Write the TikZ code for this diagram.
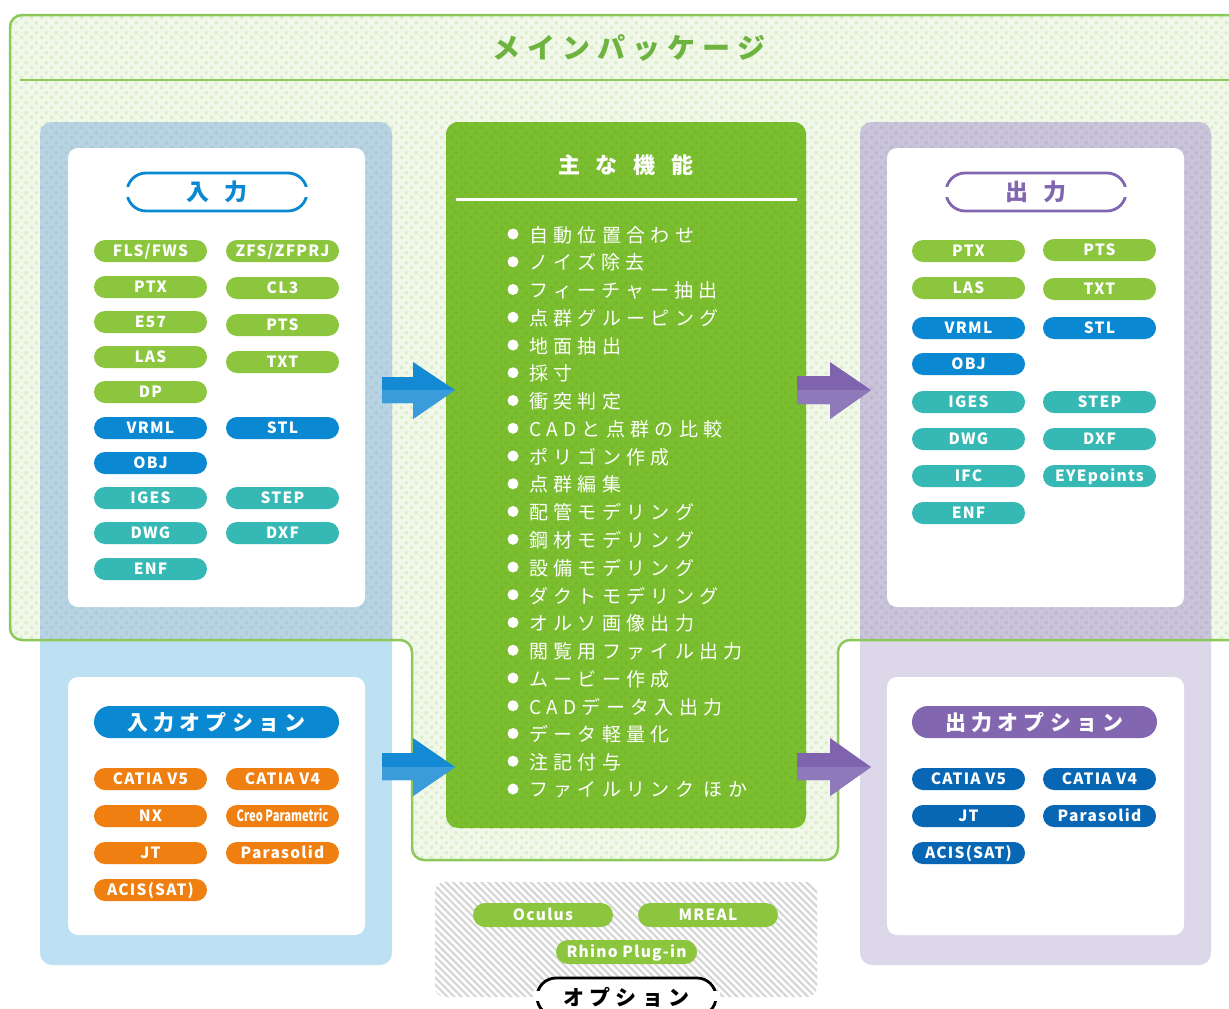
\documentclass[tikz,border=0pt]{standalone}
\usepackage{fontspec}
\usepackage{graphicx}
\setmainfont{Noto Sans CJK JP}
\usetikzlibrary{patterns,patterns.meta}
\definecolor{pgreen}{HTML}{8CC63F}
\definecolor{pblue}{HTML}{0A88D2}
\definecolor{pteal}{HTML}{36B9B5}
\definecolor{porange}{HTML}{EE7F10}
\definecolor{pdblue}{HTML}{0767B4}
\definecolor{ppurple}{HTML}{8267B0}
\definecolor{mainbg}{HTML}{F1F8EA}
\definecolor{maindot}{HTML}{DCEDCC}
\definecolor{mainline}{HTML}{8DC85A}
\definecolor{titlegreen}{HTML}{6DB33F}
\definecolor{cgreen}{HTML}{7BBE30}
\definecolor{cgreendot}{HTML}{74B72A}
\definecolor{inblueA}{HTML}{B8D4E2}
\definecolor{inblueAdot}{HTML}{ACCADB}
\definecolor{inblueB}{HTML}{BDE0F2}
\definecolor{outpurA}{HTML}{C9C4D9}
\definecolor{outpurAdot}{HTML}{BEB8CF}
\definecolor{outpurB}{HTML}{DCD8EA}
\definecolor{hatchline}{HTML}{D6D6D6}
\definecolor{arrbA}{HTML}{138AD3}
\definecolor{arrbB}{HTML}{3A9CDA}
\definecolor{arrpA}{HTML}{7F63AE}
\definecolor{arrpB}{HTML}{9079BA}
\newcommand\pillfont{\fontsize{15.5}{15.5}\selectfont\bfseries\addfontfeature{LetterSpace=8}}
\newcommand\itemfont{\fontsize{19}{19}\selectfont\addfontfeature{LetterSpace=28}}
\newcommand\optfont{\fontsize{21}{21}\selectfont\bfseries\addfontfeature{LetterSpace=24}}
\tikzdeclarepattern{
  name=chk,
  type=uncolored,
  bottom left={(0pt,0pt)},
  top right={(10pt,10pt)},
  tile size={(10pt,10pt)},
  code={
    \fill (0pt,0pt) rectangle (3.5pt,3.5pt);
    \fill (5pt,5pt) rectangle (8.5pt,8.5pt);
  }
}
\begin{document}
\begin{tikzpicture}[x=1pt,y=-1pt,
  pill/.style={rectangle, rounded corners=11pt, minimum width=113pt, minimum height=22pt, inner sep=0pt, text height=11.3pt, text depth=0pt, text=white, font=\pillfont},
  pillG/.style={pill, fill=pgreen},
  pillB/.style={pill, fill=pblue},
  pillT/.style={pill, fill=pteal},
  pillO/.style={pill, fill=porange},
  pillD/.style={pill, fill=pdblue},
  item/.style={anchor=west, inner sep=0pt, text=white, font=\itemfont},
  headpill/.style={rectangle, rounded corners=19pt, minimum width=180pt, minimum height=38pt, inner sep=0pt, fill=white, line width=2.8pt, font=\fontsize{23}{23}\selectfont\bfseries},
  optpill/.style={rectangle, rounded corners=16pt, minimum width=245pt, minimum height=32pt, inner sep=0pt, text=white, font=\optfont},
  panel/.style={fill=white, rounded corners=10pt},
  ]
\useasboundingbox (0,0) rectangle (1229,1009);
\clip (0,0) rectangle (1229,1009);
\fill[white] (0,0) rectangle (1229,1009);

% main package background
\path[fill=mainbg, rounded corners=12pt] (1260,15) -- (10,15) -- (10,640) -- (412,640) -- (412,860) -- (838,860) -- (838,640) -- (1260,640) -- cycle;
\path[pattern=chk, pattern color=maindot, rounded corners=12pt] (1260,15) -- (10,15) -- (10,640) -- (412,640) -- (412,860) -- (838,860) -- (838,640) -- (1260,640) -- cycle;

% input outer box
\fill[inblueB, rounded corners=12pt] (40,122) rectangle (392,965);
\begin{scope}
\clip (0,0) rectangle (1229,640);
\fill[inblueA, rounded corners=12pt] (40,122) rectangle (392,965);
\fill[pattern=chk, pattern color=inblueAdot, rounded corners=12pt] (40,122) rectangle (392,965);
\end{scope}
% output outer box
\fill[outpurB, rounded corners=12pt] (860,122) rectangle (1211,965);
\begin{scope}
\clip (0,0) rectangle (1229,640);
\fill[outpurA, rounded corners=12pt] (860,122) rectangle (1211,965);
\fill[pattern=chk, pattern color=outpurAdot, rounded corners=12pt] (860,122) rectangle (1211,965);
\end{scope}

% main package outline
\draw[mainline, line width=2.5pt, rounded corners=12pt] (1260,15) -- (10,15) -- (10,640) -- (412,640) -- (412,860) -- (838,860) -- (838,640) -- (1260,640);
\draw[mainline, line width=2pt] (20,80) -- (1240,80);
\node[text=titlegreen, font=\fontsize{28}{28}\selectfont\bfseries\addfontfeature{LetterSpace=25}] (maintitle) at (629,48) {メインパッケージ};

% inner panels
\fill[panel] (68,148) rectangle (365,607);
\fill[panel] (68,677) rectangle (365,935);
\fill[panel] (887,148) rectangle (1184,607);
\fill[panel] (887,677) rectangle (1184,935);

% center box
\fill[cgreen, rounded corners=12pt] (446,122) rectangle (806,828);
\fill[pattern=chk, pattern color=cgreendot, rounded corners=12pt] (446,122) rectangle (806,828);
\node[text=white, font=\fontsize{22}{22}\selectfont\bfseries] (ctitle) at (626,165) {主\hskip16pt な\hskip16pt 機\hskip16pt 能};
\draw[white, line width=3pt] (456,199) -- (797,199);
\foreach \t [count=\i from 0] in {自動位置合わせ,ノイズ除去,フィーチャー抽出,点群グルーピング,地面抽出,採寸,衝突判定,CADと点群の比較,ポリゴン作成,点群編集,配管モデリング,鋼材モデリング,設備モデリング,ダクトモデリング,オルソ画像出力,閲覧用ファイル出力,ムービー作成,CADデータ入出力,データ軽量化,注記付与,ファイルリンク ほか}{
  \fill[white] ({513},{234+27.75*\i}) circle (5.5);
  \node[item] (li\i) at ({529},{235+27.75*\i}) {\t};
}

% arrows
\fill[arrbA] (382,377) -- (413,377) -- (413,362) -- (455,390) -- (413,419) -- (413,403) -- (382,403) -- cycle;
\fill[arrbB] (382,390) -- (455,390) -- (413,419) -- (413,403) -- (382,403) -- cycle;
\fill[arrbA] (382,753) -- (413,753) -- (413,738) -- (455,767) -- (413,796) -- (413,780) -- (382,780) -- cycle;
\fill[arrbB] (382,767) -- (455,767) -- (413,796) -- (413,780) -- (382,780) -- cycle;
\fill[arrpA] (797,376) -- (830,376) -- (830,362) -- (871,390) -- (830,419) -- (830,404) -- (797,404) -- cycle;
\fill[arrpB] (797,390) -- (871,390) -- (830,419) -- (830,404) -- (797,404) -- cycle;
\fill[arrpA] (797,753) -- (830,753) -- (830,738) -- (871,767) -- (830,796) -- (830,780) -- (797,780) -- cycle;
\fill[arrpB] (797,767) -- (871,767) -- (830,796) -- (830,780) -- (797,780) -- cycle;

% input heading
\node[headpill, draw=pblue, text=pblue] (inhead) at (217,192) {入\hskip15pt 力};
\fill[white] (123,187) rectangle (131,197);
\fill[white] (303,187) rectangle (311,197);
% input pills
\node[pillG] (iFLS) at (150.5,251) {FLS/FWS};
\node[pillG] (iZFS) at (282.5,251) {ZFS/ZFPRJ};
\node[pillG] (iPTX) at (150.5,287) {PTX};
\node[pillG] (iCL3) at (282.5,288) {CL3};
\node[pillG] (iE57) at (150.5,322) {E57};
\node[pillG] (iPTS) at (282.5,325) {PTS};
\node[pillG] (iLAS) at (150.5,357) {LAS};
\node[pillG] (iTXT) at (282.5,362) {TXT};
\node[pillG] (iDP) at (150.5,392) {DP};
\node[pillB] (iVRML) at (150.5,428) {VRML};
\node[pillB] (iSTL) at (282.5,428) {STL};
\node[pillB] (iOBJ) at (150.5,463) {OBJ};
\node[pillT] (iIGES) at (150.5,498) {IGES};
\node[pillT] (iSTEP) at (282.5,498) {STEP};
\node[pillT] (iDWG) at (150.5,533) {DWG};
\node[pillT] (iDXF) at (282.5,533) {DXF};
\node[pillT] (iENF) at (150.5,569) {ENF};

% input options
\node[optpill, fill=pblue] (inopt) at (216.5,722) {入力オプション};
\node[pillO] (ioV5) at (150.5,779) {CATIA V5};
\node[pillO] (ioV4) at (282.5,779) {CATIA V4};
\node[pillO] (ioNX) at (150.5,816) {NX};
\node[pillO] (ioCreo) at (282.5,816) {\scalebox{0.72}[1]{\addfontfeature{LetterSpace=0}Creo Parametric}};
\node[pillO] (ioJT) at (150.5,853) {JT};
\node[pillO] (ioPara) at (282.5,853) {Parasolid};
\node[pillO] (ioACIS) at (150.5,890) {ACIS(SAT)};

% output heading
\node[headpill, draw=ppurple, text=ppurple] (outhead) at (1036,192) {出\hskip15pt 力};
\fill[white] (942,187) rectangle (950,197);
\fill[white] (1122,187) rectangle (1130,197);
% output pills
\node[pillG] (oPTX) at (968.5,251) {PTX};
\node[pillG] (oPTS) at (1099.5,250) {PTS};
\node[pillG] (oLAS) at (968.5,288) {LAS};
\node[pillG] (oTXT) at (1099.5,289) {TXT};
\node[pillB] (oVRML) at (968.5,328) {VRML};
\node[pillB] (oSTL) at (1099.5,328) {STL};
\node[pillB] (oOBJ) at (968.5,364) {OBJ};
\node[pillT] (oIGES) at (968.5,402) {IGES};
\node[pillT] (oSTEP) at (1099.5,402) {STEP};
\node[pillT] (oDWG) at (968.5,439) {DWG};
\node[pillT] (oDXF) at (1099.5,439) {DXF};
\node[pillT] (oIFC) at (968.5,476) {IFC};
\node[pillT] (oEYE) at (1099.5,476) {EYEpoints};
\node[pillT] (oENF) at (968.5,513) {ENF};

% output options
\node[optpill, fill=ppurple] (outopt) at (1034.5,722) {出力オプション};
\node[pillD] (ooV5) at (968.5,779) {CATIA V5};
\node[pillD] (ooV4) at (1099.5,779) {CATIA V4};
\node[pillD] (ooJT) at (968.5,816) {JT};
\node[pillD] (ooPara) at (1099.5,816) {Parasolid};
\node[pillD] (ooACIS) at (968.5,853) {ACIS(SAT)};

% options (bottom)
\fill[white, rounded corners=10pt] (435,882) rectangle (817,997);
\fill[pattern={Lines[angle=-45,distance=5pt,line width=2.2pt]}, pattern color=hatchline, rounded corners=10pt] (435,882) rectangle (817,997);
\node[pillG, minimum width=140pt, minimum height=24pt, rounded corners=12pt] (opOculus) at (543,915) {Oculus};
\node[pillG, minimum width=140pt, minimum height=24pt, rounded corners=12pt] (opMREAL) at (708,915) {MREAL};
\node[pillG, minimum width=141pt, minimum height=24pt, rounded corners=12pt] (opRhino) at (626.5,952) {Rhino Plug-in};
\node[headpill, draw=black, text=black, minimum width=179pt, font=\fontsize{21}{21}\selectfont\bfseries\addfontfeature{LetterSpace=24}] (opthead) at (626.5,997) {オプション};
\fill[white] (533,991) rectangle (541,1001);
\fill[white] (712,991) rectangle (720,1001);
\end{tikzpicture}
\end{document}
